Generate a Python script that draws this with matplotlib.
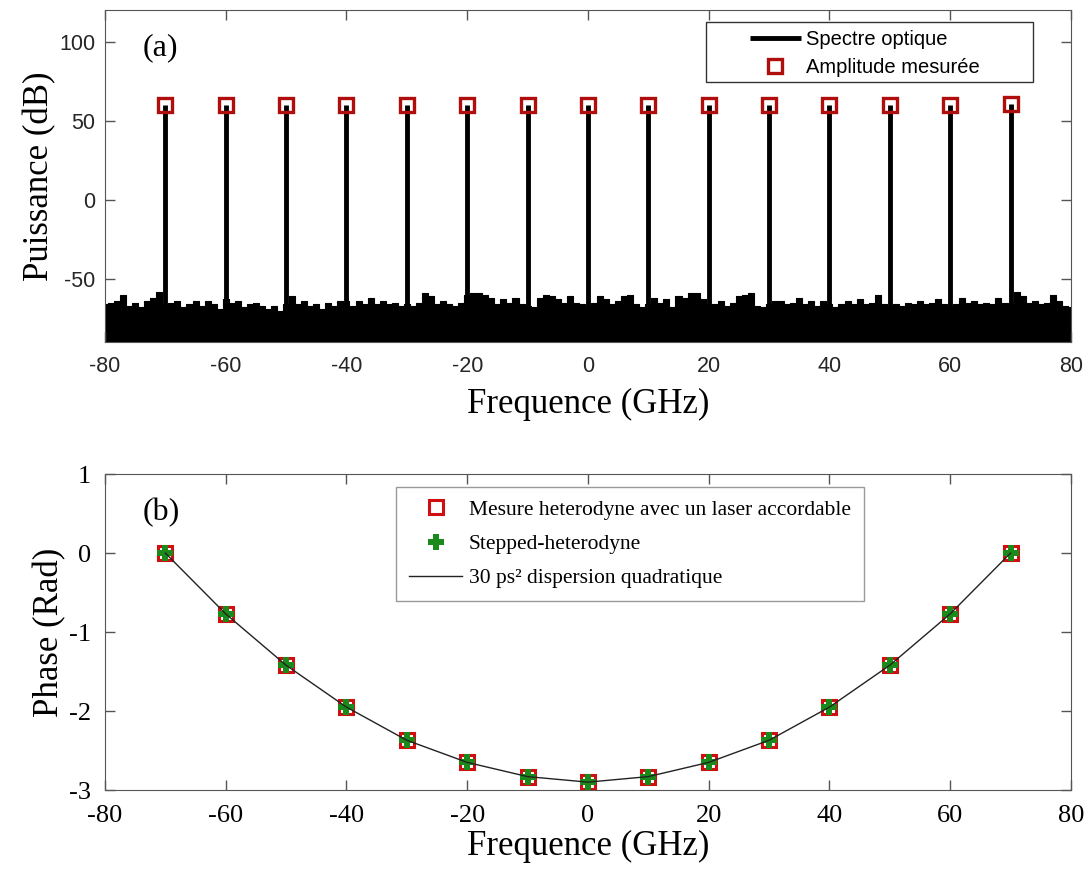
"""Spectre optique et phase mesuree (heterodyne / stepped-heterodyne).
"""
import numpy as np
import matplotlib.pyplot as plt
from matplotlib.patches import Rectangle

plt.rcParams['axes.unicode_minus'] = False

# ---- data ----
# comb lines (GHz) and measured amplitude (dB)
comb_freq = [-70, -60, -50, -40, -30, -20, -10, 0, 10, 20, 30, 40, 50, 60, 70]
comb_amp = [60, 60, 60, 60, 60, 60, 60, 60, 60, 60, 60, 60, 60, 60, 60.5]

# noise floor envelope, one value per GHz from -80 to 80 (dB)
noise_freq = list(range(-80, 81))
noise_env = [
    -66, -65, -64, -60, -67, -65, -68, -64, -62, -58,
    -66, -65, -64, -68, -66, -64, -67, -64, -66, -69,
    -63, -65, -64, -68, -66, -65, -67, -69, -67, -70,
    -66, -61, -66, -64, -67, -66, -69, -65, -67, -64,
    -64, -67, -64, -66, -62, -66, -64, -66, -65, -67,
    -66, -67, -65, -59, -61, -66, -64, -66, -67, -65,
    -60, -59, -59, -60, -62, -66, -63, -65, -62, -66,
    -67, -68, -62, -60, -61, -63, -65, -61, -65, -66,
    -67,
    -65, -61, -63, -66, -64, -61, -60, -66, -68, -66,
    -62, -65, -63, -68, -61, -62, -59, -59, -63, -66,
    -66, -64, -67, -65, -61, -60, -59, -67, -68, -66,
    -64, -64, -66, -65, -62, -66, -64, -67, -64, -66,
    -68, -66, -64, -66, -63, -66, -65, -60, -66, -67,
    -66, -67, -65, -66, -64, -66, -65, -63, -66, -67,
    -66, -62, -65, -64, -66, -65, -66, -62, -65, -66,
    -58, -61, -65, -64, -66, -65, -60, -64, -67, -68,
]

# measured phase (rad) at the comb lines
phase_het = [0.0, -0.77, -1.42, -1.95, -2.37, -2.65, -2.83, -2.90,
             -2.83, -2.65, -2.37, -1.95, -1.42, -0.77, 0.0]
phase_step = [0.0, -0.77, -1.42, -1.95, -2.37, -2.65, -2.83, -2.90,
              -2.83, -2.65, -2.37, -1.95, -1.42, -0.77, 0.0]
phase_fit = [0.0, -0.77, -1.42, -1.95, -2.37, -2.65, -2.83, -2.90,
             -2.83, -2.65, -2.37, -1.95, -1.42, -0.77, 0.0]

xticks = [-80, -60, -40, -20, 0, 20, 40, 60, 80]

SERIF = 'Liberation Serif'
SANS = 'Liberation Sans'
AXCOL = '#555555'
RED = '#b00d0d'

fig = plt.figure(figsize=(10.9, 8.75), dpi=100)

# ---------------- (a) spectre ----------------
ax1 = fig.add_axes([0.0963, 0.609, 0.8862, 0.3794])
ax1.fill_between(noise_freq, -90, noise_env, step='mid', color='black',
                 linewidth=0.8, edgecolor='black')
ax1.vlines(comb_freq, -90, comb_amp, color='black', linewidth=3.5,
           label='Spectre optique')
ax1.plot(comb_freq, comb_amp, linestyle='none', marker='s', markersize=9.5,
         markerfacecolor='none', markeredgecolor=RED, markeredgewidth=2.4,
         label='Amplitude mesurée')
ax1.set_xlim(-80, 80)
ax1.set_ylim(-90, 120)
ax1.set_xticks(xticks)
ax1.set_yticks([-50, 0, 50, 100])
ax1.tick_params(direction='in', length=7, width=1, top=True, right=True,
                colors=AXCOL, labelcolor='#262626', labelsize=15.5)
ax1.tick_params(axis='x', pad=10)
ax1.tick_params(axis='y', pad=7)
for lab in ax1.get_xticklabels() + ax1.get_yticklabels():
    lab.set_family(SANS)
for sp in ax1.spines.values():
    sp.set_color(AXCOL)
ax1.set_xlabel('Frequence (GHz)', family=SERIF, fontsize=25, labelpad=8)
ax1.set_ylabel('Puissance (dB)', family=SERIF, fontsize=25, labelpad=2)
ax1.text(0.039, 0.886, '(a)', transform=ax1.transAxes, family=SERIF,
         fontsize=23, va='center', ha='left')
# MATLAB-like legend box, wider than its content
ax1.add_patch(Rectangle((0.622, 0.783), 0.3387, 0.181, transform=ax1.transAxes,
                        facecolor='white', edgecolor='#333333', linewidth=1.0,
                        zorder=4))
leg1 = ax1.legend(loc='upper left', bbox_to_anchor=(0.668, 0.94),
                  borderaxespad=0, prop={'family': SANS, 'size': 14.5},
                  handlelength=2.5, labelspacing=0.45, frameon=False,
                  borderpad=0, handletextpad=0.25)
leg1.set_zorder(5)

# ---------------- (b) phase ----------------
ax2 = fig.add_axes([0.0963, 0.0971, 0.8862, 0.3611])
ax2.plot(comb_freq, phase_het, linestyle='none', marker='s', markersize=10,
         markerfacecolor='white', markeredgecolor='#d01010',
         markeredgewidth=2.2, label='Mesure heterodyne avec un laser accordable')
ax2.plot(comb_freq, phase_step, linestyle='none', marker='P', markersize=12,
         color='#1a8a1a', markeredgewidth=0,
         label='Stepped-heterodyne')
ax2.plot(comb_freq, phase_fit, color='#222222', linewidth=1.0,
         label='30 ps² dispersion quadratique')
ax2.set_xlim(-80, 80)
ax2.set_ylim(-3, 1)
ax2.set_xticks(xticks)
ax2.set_yticks([-3, -2, -1, 0, 1])
ax2.tick_params(direction='in', length=7, width=1, top=True, right=True,
                colors=AXCOL, labelcolor='black', labelsize=19)
ax2.tick_params(axis='x', pad=11)
ax2.tick_params(axis='y', pad=10)
for lab in ax2.get_xticklabels() + ax2.get_yticklabels():
    lab.set_family(SERIF)
for sp in ax2.spines.values():
    sp.set_color(AXCOL)
ax2.set_xlabel('Frequence (GHz)', family=SERIF, fontsize=25, labelpad=2)
ax2.set_ylabel('Phase (Rad)', family=SERIF, fontsize=25, labelpad=2)
ax2.text(0.039, 0.877, '(b)', transform=ax2.transAxes, family=SERIF,
         fontsize=23, va='center', ha='left')
leg2 = ax2.legend(loc='upper left', bbox_to_anchor=(0.301, 0.959),
                  borderaxespad=0, prop={'family': SERIF, 'size': 15.5},
                  handlelength=2.5, labelspacing=0.65, fancybox=False,
                  framealpha=1, edgecolor='#999999', borderpad=0.6,
                  handletextpad=0.3)
leg2.get_frame().set_linewidth(1.0)

fig.savefig('out.png', dpi=100)
